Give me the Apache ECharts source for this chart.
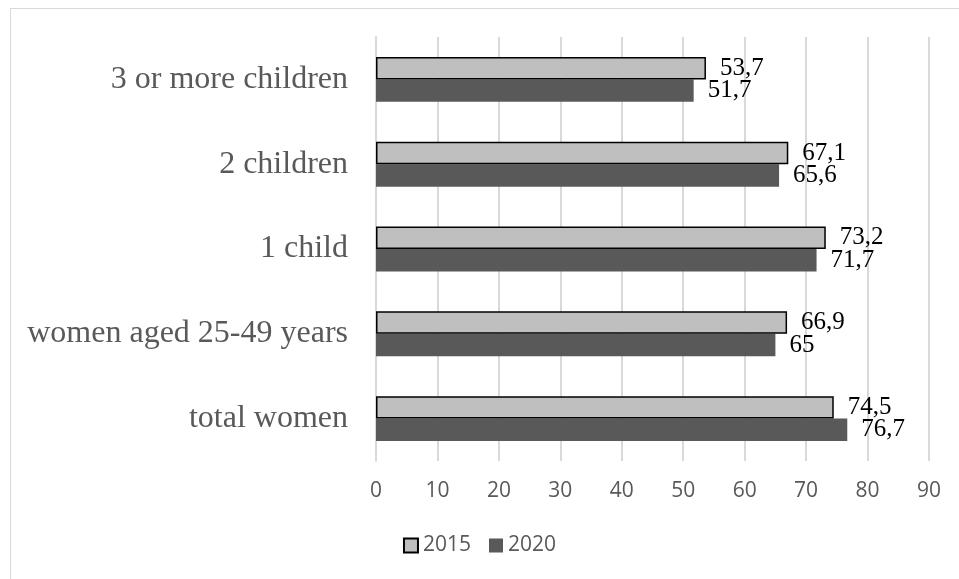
<!DOCTYPE html>
<html>
<head>
<meta charset="utf-8">
<script src="https://cdn.jsdelivr.net/npm/echarts@6/dist/echarts.min.js"></script>
<style>
html,body{margin:0;padding:0;background:#fff;}
#frame{position:absolute;left:10px;top:8px;width:960px;height:600px;border:1px solid #d9d9d9;box-sizing:border-box;}
#chart{position:absolute;left:0;top:0;width:959px;height:579px;}
</style>
</head>
<body>
<div id="frame"></div>
<div id="chart"></div>
<script>
var categories = ['total women', 'women aged 25-49 years', '1 child', '2 children', '3 or more children'];
var values2015 = [74.5, 66.9, 73.2, 67.1, 53.7];
var values2020 = [76.7, 65, 71.7, 65.6, 51.7];
var xTicks = [0, 10, 20, 30, 40, 50, 60, 70, 80, 90];

var chart = echarts.init(document.getElementById('chart'), null, {renderer: 'canvas'});
var fmt = function (p) { return String(p.value).replace('.', ','); };
var labelStyle = {
  show: true, position: 'right', distance: 14,
  fontFamily: 'Liberation Serif', fontSize: 25, color: '#000',
  formatter: fmt
};
chart.setOption({
  animation: false,
  backgroundColor: 'transparent',
  grid: {left: 376, right: 30, top: 37, bottom: 118, containLabel: false},
  legend: {
    data: [
      {name: '2015', icon: 'rect', itemStyle: {color: '#bfbfbf', borderColor: '#000', borderWidth: 2}},
      {name: '2020', icon: 'rect', itemStyle: {color: '#595959'}}
    ],
    bottom: 18, left: 'center',
    itemWidth: 14, itemHeight: 14, itemGap: 18,
    textStyle: {fontFamily: 'Open Sans', fontSize: 21, color: '#595959'}
  },
  xAxis: {
    type: 'value', min: xTicks[0], max: xTicks[xTicks.length - 1], interval: 10,
    axisLine: {show: false}, axisTick: {show: false},
    splitLine: {lineStyle: {color: '#d9d9d9', width: 2}},
    axisLabel: {fontFamily: 'Open Sans', fontSize: 21, color: '#595959', margin: 20}
  },
  yAxis: {
    type: 'category', data: categories,
    axisLine: {show: true, lineStyle: {color: '#d9d9d9', width: 2}},
    axisTick: {show: false},
    axisLabel: {fontFamily: 'Liberation Serif', fontSize: 32, color: '#595959', margin: 28}
  },
  series: [
    {
      name: '2015', type: 'bar', data: values2015,
      barGap: '0%', barCategoryGap: '47%',
      itemStyle: {color: '#bfbfbf', borderColor: '#000', borderWidth: 1.5},
      label: labelStyle, z: 3
    },
    {
      name: '2020', type: 'bar', data: values2020,
      barGap: '0%', barCategoryGap: '47%',
      itemStyle: {color: '#595959'},
      label: labelStyle, z: 2
    }
  ]
});
</script>
</body>
</html>
